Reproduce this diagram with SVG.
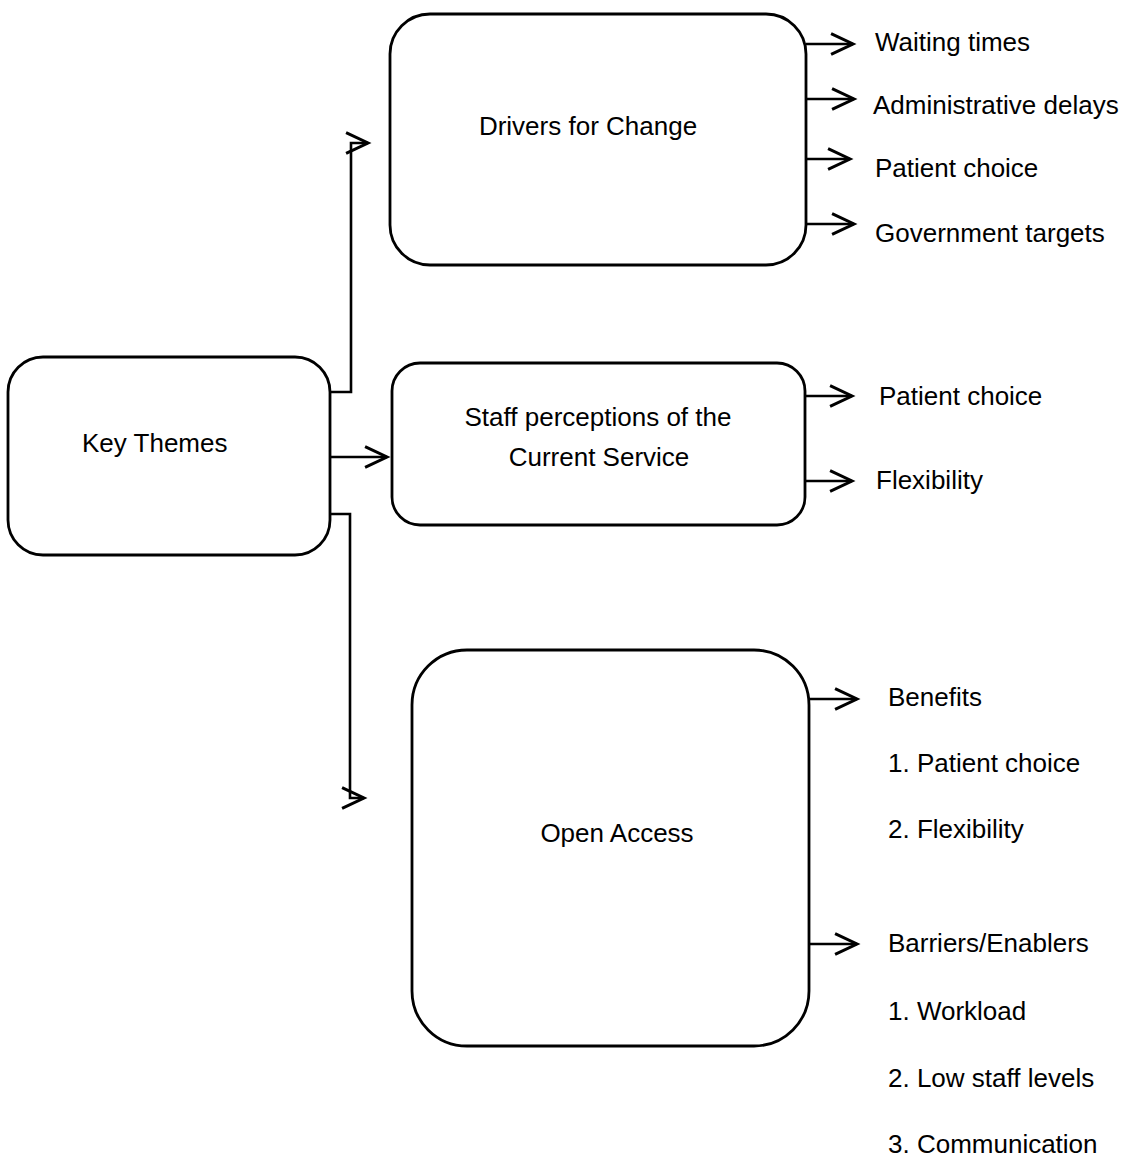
<svg xmlns="http://www.w3.org/2000/svg" width="1133" height="1161" viewBox="0 0 1133 1161">
<style>
.box{fill:#fff;stroke:#000;stroke-width:2.8}
.c{fill:none;stroke:#000;stroke-width:2.6}
text{font-family:"Liberation Sans",Arial,sans-serif;font-size:26px;fill:#000}
.m{text-anchor:middle}
</style>
<defs>
<marker id="ah" markerUnits="userSpaceOnUse" markerWidth="30" markerHeight="30" viewBox="-22 -12 26 24" refX="0" refY="0" orient="auto" overflow="visible">
<path d="M-19,-9 L0,0 L-19,9" fill="none" stroke="#000" stroke-width="2.6"/>
</marker>
</defs>
<rect width="1133" height="1161" fill="#fff"/>
<g id="connectors">
<path class="c" d="M330,392 H351 V143 H368" marker-end="url(#ah)"/>
<path class="c" d="M330,457 H387" marker-end="url(#ah)"/>
<path class="c" d="M330,514 H350 V798 H364" marker-end="url(#ah)"/>
<path class="c" d="M806,44 H853" marker-end="url(#ah)"/>
<path class="c" d="M806,99 H854" marker-end="url(#ah)"/>
<path class="c" d="M804,159 H850" marker-end="url(#ah)"/>
<path class="c" d="M806,224 H854" marker-end="url(#ah)"/>
<path class="c" d="M805,396 H852" marker-end="url(#ah)"/>
<path class="c" d="M805,481 H852" marker-end="url(#ah)"/>
<path class="c" d="M809,699 H857" marker-end="url(#ah)"/>
<path class="c" d="M809,944 H857" marker-end="url(#ah)"/>
</g>
<g id="key-themes">
<rect class="box" x="8" y="357" width="322" height="198" rx="35"/>
<text x="82" y="452">Key Themes</text>
</g>
<g id="drivers">
<rect class="box" x="390" y="14" width="416" height="251" rx="40"/>
<text class="m" x="588" y="135">Drivers for Change</text>
</g>
<g id="staff">
<rect class="box" x="392" y="363" width="413" height="162" rx="28"/>
<text class="m" x="598" y="426">Staff perceptions of the</text>
<text class="m" x="599" y="466">Current Service</text>
</g>
<g id="open-access">
<rect class="box" x="412" y="650" width="397" height="396" rx="55"/>
<text class="m" x="617" y="842">Open Access</text>
</g>
<g id="drivers-items">
<text x="875" y="51">Waiting times</text>
<text x="873" y="114">Administrative delays</text>
<text x="875" y="177">Patient choice</text>
<text x="875" y="242">Government targets</text>
</g>
<g id="staff-items">
<text x="879" y="405">Patient choice</text>
<text x="876" y="489">Flexibility</text>
</g>
<g id="open-items">
<text x="888" y="706">Benefits</text>
<text x="888" y="772">1. Patient choice</text>
<text x="888" y="838">2. Flexibility</text>
<text x="888" y="952">Barriers/Enablers</text>
<text x="888" y="1020">1. Workload</text>
<text x="888" y="1087">2. Low staff levels</text>
<text x="888" y="1153">3. Communication</text>
</g>
</svg>
